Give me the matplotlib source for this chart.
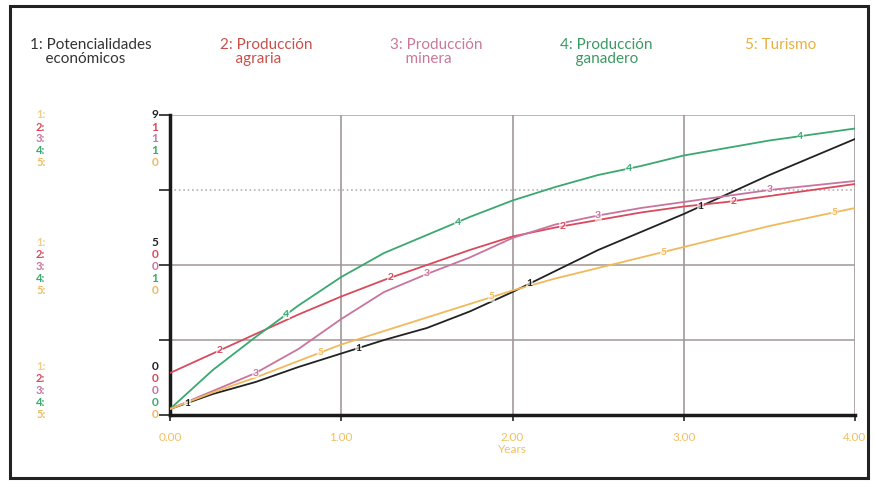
import numpy as np
import matplotlib.pyplot as plt
from matplotlib.patches import Rectangle

# years and series values (fraction of each series' own scale)
years = [0.0, 0.25, 0.5, 0.75, 1.0, 1.25, 1.5, 1.75, 2.0, 2.25, 2.5, 2.75, 3.0, 3.25, 3.5, 3.75, 4.0]
potencialidades = [0.02, 0.07, 0.11, 0.16, 0.205, 0.25, 0.29, 0.345, 0.41, 0.48, 0.55, 0.61, 0.67, 0.735, 0.80, 0.86, 0.92]
agraria = [0.14, 0.205, 0.27, 0.335, 0.395, 0.45, 0.50, 0.55, 0.595, 0.625, 0.65, 0.675, 0.695, 0.71, 0.73, 0.75, 0.77]
minera = [0.02, 0.08, 0.14, 0.22, 0.32, 0.41, 0.47, 0.525, 0.59, 0.635, 0.665, 0.69, 0.71, 0.73, 0.75, 0.765, 0.78]
ganadero = [0.02, 0.15, 0.26, 0.365, 0.46, 0.54, 0.60, 0.66, 0.715, 0.76, 0.80, 0.83, 0.865, 0.89, 0.915, 0.935, 0.955]
turismo = [0.02, 0.075, 0.125, 0.18, 0.235, 0.28, 0.325, 0.37, 0.415, 0.455, 0.49, 0.525, 0.56, 0.595, 0.63, 0.66, 0.69]

names = ['1: Potencialidades\n    económicos', '2: Producción\n    agraria', '3: Producción\n    minera',
         '4: Producción\n    ganadero', '5: Turismo']
series = [potencialidades, agraria, minera, ganadero, turismo]
colors = ['#222222', '#d84a5c', '#c8749e', '#3aa870', '#f0b95c']
text_colors = ['#333333', '#c8504a', '#c87898', '#3a9a62', '#e8b040']
label_offsets = [0.1, 0.29, 0.5, 0.68, 0.88]

# scale labels at top, middle, bottom of the axis
scale_top = ['9', '1', '1', '1', '0']
scale_mid = ['5', '0', '0', '1', '0']
scale_bot = ['0', '0', '0', '0', '0']

xticks = [0, 1, 2, 3, 4]
xticklabels = ['0.00', '1.00', '2.00', '3.00', '4.00']

plt.rcParams['font.family'] = ['Lato', 'DejaVu Sans']

fig = plt.figure(figsize=(8.74, 4.84), dpi=100)
W, H = 874, 484
ax = fig.add_axes([170 / W, 1 - 415 / H, 685 / W, 300 / H])

# outer frame
fig.patches.append(Rectangle((10 / W, 6 / H), 858 / W, 472 / H, transform=fig.transFigure,
                             fill=False, edgecolor='#222222', linewidth=2.2))

ax.set_xlim(0, 4)
ax.set_ylim(0, 1)

# grid
for yv, ls, gc in [(1.0, '-', '#b0a8a8'), (0.75, ':', '#b8b0b0'), (0.5, '-', '#a8a0a0'), (0.25, '-', '#a8a0a0')]:
    ax.axhline(yv, color=gc, linewidth=1.2, linestyle=ls, zorder=1)
for xv in [1, 2, 3, 4]:
    ax.axvline(xv, color='#a09898', linewidth=1.2, zorder=1)

for i, (vals, c) in enumerate(zip(series, colors)):
    ax.plot(years, vals, color=c, linewidth=1.3, zorder=3)
    for k in range(4):
        xp = label_offsets[i] + k
        yp = np.interp(xp, years, vals)
        ax.text(xp, yp, str(i + 1), color=c, fontsize=7.5, ha='center', va='center',
                fontweight='bold', zorder=4,
                bbox=dict(boxstyle='square,pad=0.05', fc='white', ec='none', alpha=0.6))

for s in ['top', 'right']:
    ax.spines[s].set_visible(False)
ax.spines['left'].set_linewidth(2.5)
ax.spines['bottom'].set_linewidth(2.5)
ax.spines['left'].set_color('#1a1a1a')
ax.spines['bottom'].set_color('#1a1a1a')

ax.set_yticks([0, 0.25, 0.5, 0.75, 1.0])
ax.set_yticklabels([])
ax.tick_params(axis='y', length=8, width=1.2, color='#222222')
ax.set_xticks(xticks)
ax.set_xticklabels(xticklabels, color='#f0c060', fontsize=8.5)
ax.tick_params(axis='x', length=4, width=1.2, color='#222222', pad=8)
ax.set_xlabel('Years', color='#f0c060', fontsize=8.5, labelpad=1)

# scale labels on the left
def scale_group(top_px, values):
    for j in range(5):
        y = 1 - (top_px + j * 12) / H
        lab_color = '#ecd08a' if j == 0 else colors[j]
        fig.text(36 / W, y, f'{j + 1}:', color=lab_color, fontsize=8, ha='left', va='center',
                 fontweight='bold')
        fig.text(155 / W, y, values[j], color=colors[j], fontsize=8.5, ha='center', va='center',
                 fontweight='bold')

scale_group(115, scale_top)
scale_group(242, scale_mid)
scale_group(367, scale_bot)

# legend along the top
legend_x = [30, 220, 390, 560, 745]
for name, x, tc in zip(names, legend_x, text_colors):
    fig.text(x / W, 1 - 38 / H, name, color=tc, fontsize=11, ha='left', va='top', linespacing=1.0)

fig.savefig('out.png', dpi=100)
